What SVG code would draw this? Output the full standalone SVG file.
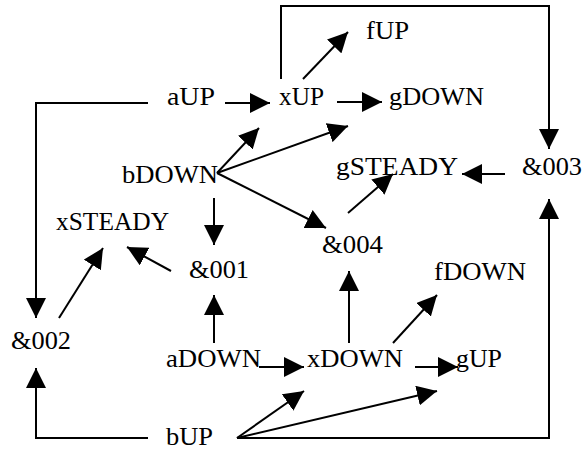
<svg xmlns="http://www.w3.org/2000/svg" width="582" height="451" viewBox="0 0 582 451">
  <style>
    .lbl { font-family: "Liberation Serif", "Times New Roman", serif; font-size: 26px; fill: #000; }
    .edge { fill: none; stroke: #000; stroke-width: 2; marker-end: url(#arrow); }
  </style>
  <defs>
    <marker id="arrow" markerUnits="userSpaceOnUse" markerWidth="20" markerHeight="20" refX="20" refY="10" orient="auto">
      <path d="M0,0 L20,10 L0,20 Z" fill="#000"/>
    </marker>
  </defs>
  <rect width="582" height="451" fill="#fff"/>

  <g id="connectors">
    <path class="edge" d="M148,103 H36 V318"/>
    <path class="edge" d="M225,103 H270"/>
    <path class="edge" d="M281,79 V6 H549 V149"/>
    <path class="edge" d="M303,79 L348,32"/>
    <path class="edge" d="M337,102 H382"/>
    <path class="edge" d="M217,173 L259,128"/>
    <path class="edge" d="M217,173 L348,126"/>
    <path class="edge" d="M217,173 L326,228"/>
    <path class="edge" d="M214,198 V245"/>
    <path class="edge" d="M505,174 H462"/>
    <path class="edge" d="M348,213 L393,174"/>
    <path class="edge" d="M59,318 L103,248"/>
    <path class="edge" d="M171,271 L127,247"/>
    <path class="edge" d="M214,343 V295"/>
    <path class="edge" d="M259,367 H304"/>
    <path class="edge" d="M349,343 V271"/>
    <path class="edge" d="M393,343 L437,295"/>
    <path class="edge" d="M415,367 H458"/>
    <path class="edge" d="M148,438 H36 V368"/>
    <path class="edge" d="M237,438 L304,391"/>
    <path class="edge" d="M237,438 L437,391"/>
    <path class="edge" d="M237,438 H549 V199"/>
  </g>

  <g id="aUP"><text class="lbl" x="167" y="105" textLength="48" lengthAdjust="spacingAndGlyphs">aUP</text></g>
  <g id="xUP"><text class="lbl" x="279" y="105" textLength="45" lengthAdjust="spacingAndGlyphs">xUP</text></g>
  <g id="fUP"><text class="lbl" x="366" y="39" textLength="43" lengthAdjust="spacingAndGlyphs">fUP</text></g>
  <g id="gDOWN"><text class="lbl" x="389" y="105" textLength="95" lengthAdjust="spacingAndGlyphs">gDOWN</text></g>
  <g id="bDOWN"><text class="lbl" x="122" y="183" textLength="96" lengthAdjust="spacingAndGlyphs">bDOWN</text></g>
  <g id="gSTEADY"><text class="lbl" x="336" y="175" textLength="122" lengthAdjust="spacingAndGlyphs">gSTEADY</text></g>
  <g id="n003"><text class="lbl" x="522" y="175" textLength="60" lengthAdjust="spacingAndGlyphs">&amp;003</text></g>
  <g id="xSTEADY"><text class="lbl" x="56" y="230" textLength="113" lengthAdjust="spacingAndGlyphs">xSTEADY</text></g>
  <g id="n001"><text class="lbl" x="189" y="278" textLength="60" lengthAdjust="spacingAndGlyphs">&amp;001</text></g>
  <g id="n004"><text class="lbl" x="322" y="253" textLength="61" lengthAdjust="spacingAndGlyphs">&amp;004</text></g>
  <g id="fDOWN"><text class="lbl" x="434" y="280" textLength="92" lengthAdjust="spacingAndGlyphs">fDOWN</text></g>
  <g id="n002"><text class="lbl" x="11" y="349" textLength="60" lengthAdjust="spacingAndGlyphs">&amp;002</text></g>
  <g id="aDOWN"><text class="lbl" x="166" y="367" textLength="95" lengthAdjust="spacingAndGlyphs">aDOWN</text></g>
  <g id="xDOWN"><text class="lbl" x="307" y="367" textLength="96" lengthAdjust="spacingAndGlyphs">xDOWN</text></g>
  <g id="gUP"><text class="lbl" x="456" y="367" textLength="46" lengthAdjust="spacingAndGlyphs">gUP</text></g>
  <g id="bUP"><text class="lbl" x="166" y="445" textLength="47" lengthAdjust="spacingAndGlyphs">bUP</text></g>
</svg>
